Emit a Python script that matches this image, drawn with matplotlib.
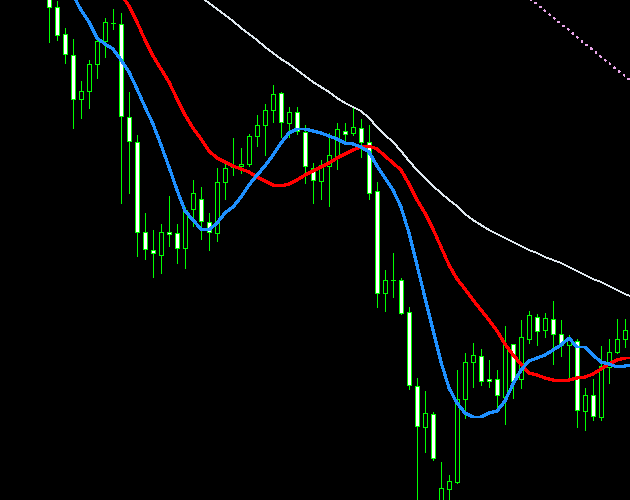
import matplotlib
matplotlib.use('Agg')
import matplotlib.pyplot as plt
import numpy as np

nan = np.nan

# OHLC of each bar (arbitrary price units)
opens = [508, 493, 466, 445, 401, 409, 436, 459, 477, 476, 383, 358, 268, 250, 245, 268, 267, 252, 291, 301,
         278, 267, 318, 333, 334, 336, 364, 375, 390, 407, 377, 388, 368, 332, 319, 334, 343, 369, 367, 372,
         358, 309, 207, 220, 220, 188, 114, 73, 86, -5, 11, 18, 101, 138, 144, 121, 121, 103, 156, 121,
         161, 183, 170, 181, 166, 155, 159, 89, 105, 83, 133, 148, 161]
highs = [515, 499, 472, 461, 419, 440, 464, 482, 491, 487, 408, 365, 287, 270, 276, 304, 276, 293, 320, 313,
         287, 332, 340, 362, 352, 366, 385, 396, 415, 408, 393, 393, 375, 337, 340, 367, 377, 377, 393, 381,
         375, 318, 230, 247, 222, 193, 122, 109, 88, 38, 25, 130, 147, 157, 151, 140, 130, 174, 156, 180,
         189, 186, 187, 199, 180, 165, 161, 112, 121, 154, 161, 181, 181]
lows = [458, 460, 437, 372, 382, 392, 422, 443, 471, 297, 307, 244, 241, 223, 227, 254, 237, 232, 274, 261,
        250, 259, 301, 325, 327, 334, 354, 345, 378, 363, 363, 366, 317, 297, 301, 294, 331, 357, 365, 343,
        301, 193, 189, 203, 186, 111, -10, 48, 40, -10, -5, 17, 82, 113, 115, 113, 93, 76, 102, 112,
        157, 155, 163, 136, 144, 123, 73, 70, 80, 80, 117, 147, 153]
closes = [493, 465, 446, 401, 409, 436, 459, 478, 477, 384, 359, 268, 251, 247, 268, 266, 252, 290, 307, 279,
          268, 318, 332, 335, 336, 364, 375, 390, 406, 378, 388, 369, 334, 320, 335, 345, 371, 366, 373, 358,
          307, 207, 220, 220, 187, 115, 74, 87, 42, 12, 19, 101, 138, 145, 119, 119, 105, 155, 119, 163,
          185, 169, 182, 166, 155, 162, 90, 105, 84, 134, 148, 161, 170]

# moving average lines (one value per bar, plus one past the last bar)
ma_fast = [nan, nan, 522, 505, 490, 478, 462, 456, 451, 440, 428, 411, 393, 376, 355, 333, 310, 289, 280, 271,
           270, 277, 287, 293, 303, 315, 325, 334, 345, 357, 367, 371, 371, 369, 367, 364, 361, 357, 356, 353,
           348, 334, 322, 310, 293, 267, 235, 202, 170, 138, 112, 97, 87, 83, 83, 87, 89, 99, 116, 130,
           139, 142, 145, 150, 155, 162, 153, 153, 145, 138, 136, 133, 134, 135]
ma_mid = [nan, nan, nan, nan, nan, nan, nan, nan, 518, 506, 494, 478, 460, 444, 431, 418, 401, 385, 372, 361,
          349, 342, 338, 334, 331, 328, 323, 319, 315, 314, 316, 320, 325, 329, 333, 337, 342, 346, 350, 353,
          354, 351, 344, 337, 330, 316, 300, 287, 271, 253, 235, 221, 211, 200, 190, 180, 169, 156, 145, 136,
          127, 125, 122, 120, 119, 120, 122, 123, 126, 131, 136, 140, 142, 142]
ma_slow = [nan] * 18 + [509, 503,
           497, 491, 485, 479, 472, 466, 460, 453, 447, 441, 436, 430, 424, 418, 413, 408, 402, 397, 393, 389,
           382, 373, 365, 358, 349, 339, 330, 322, 314, 307, 300, 294, 286, 280, 275, 270, 266, 262, 258, 254,
           250, 247, 243, 240, 237, 233, 229, 225, 221, 218, 214, 210, 206, 203]
ma_long = [nan] * 59 + [509, 502, 496, 489, 483, 476, 470, 463, 456, 450, 443, 437, 430, 424, 417]

BULL_FACE = 'black'
BEAR_FACE = 'white'
CANDLE_EDGE = '#00ff00'


def draw_candles(ax):
    o = np.array(opens, dtype=float)
    c = np.array(closes, dtype=float)
    x = np.arange(len(o))
    # wicks first so the bodies sit on top
    ax.vlines(x, lows, highs, color=CANDLE_EDGE, linewidth=0.72, zorder=2, antialiased=False)
    faces = [BULL_FACE if cc > oo else BEAR_FACE for oo, cc in zip(o, c)]
    ax.bar(x, np.abs(c - o), bottom=np.minimum(o, c), width=0.6,
           color=faces, edgecolor=CANDLE_EDGE, linewidth=0.72, zorder=3, antialiased=False)


fig = plt.figure(figsize=(6.3, 5.0), dpi=100, facecolor='black')
ax = fig.add_axes([0, 0, 1, 1])
ax.set_facecolor('black')

draw_candles(ax)

xl = np.arange(len(ma_fast))
ax.plot(xl, ma_slow, color='#dfe8ef', linewidth=0.5, zorder=4, antialiased=False)
ax.plot(xl, ma_long, color='#e9a6e9', linewidth=0.72, linestyle=(0, (2, 5)), zorder=4, antialiased=False)
ax.plot(xl, ma_mid, color='#ff0000', linewidth=1.44, zorder=5, antialiased=False)
ax.plot(xl, ma_fast, color='#1e90ff', linewidth=1.44, zorder=6, antialiased=False)

ax.set_xlim(-6.125, 72.625)
ax.set_ylim(0, 500)
ax.axis('off')

plt.savefig('out.png', dpi=100, facecolor='black')
plt.close(fig)
